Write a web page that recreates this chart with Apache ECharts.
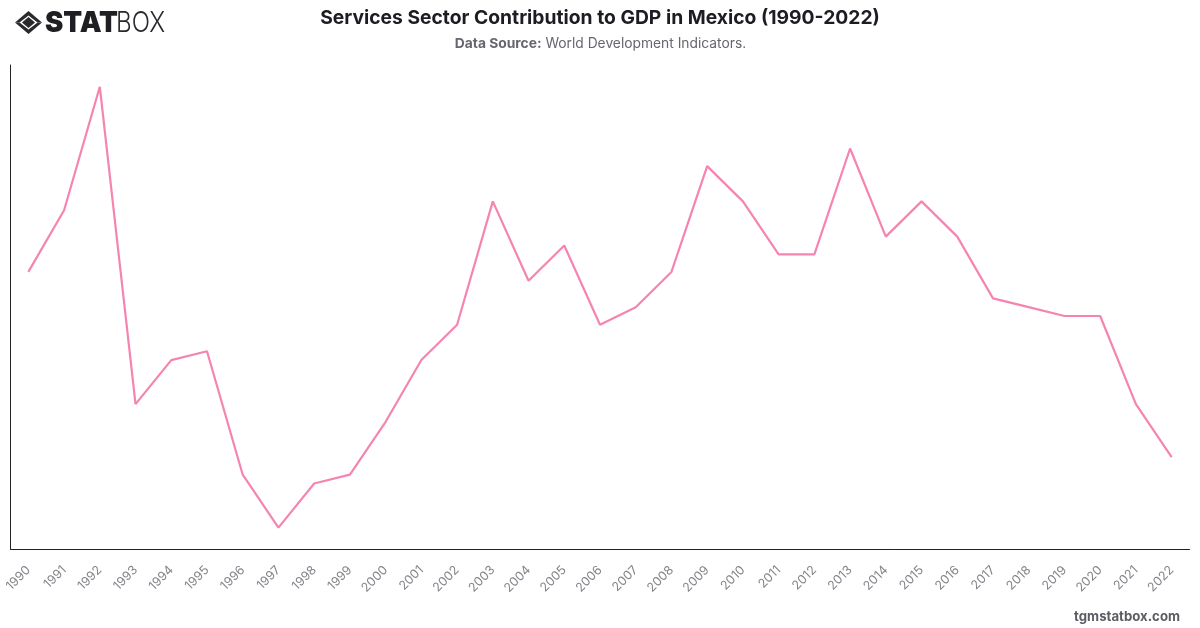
<!DOCTYPE html>
<html>
<head>
<meta charset="utf-8">
<style>html,body{margin:0;padding:0;background:#fff}#chart{width:1200px;height:628px}</style>
<script src="https://cdn.jsdelivr.net/npm/echarts@6/dist/echarts.min.js"></script>
</head>
<body>
<div id="chart"></div>
<script>
// Services, value added (% of GDP), Mexico
const years = ['1990','1991','1992','1993','1994','1995','1996','1997','1998','1999','2000','2001','2002','2003','2004','2005','2006','2007','2008','2009','2010','2011','2012','2013','2014','2015','2016','2017','2018','2019','2020','2021','2022'];
const servicesShare = [60.9,61.6,63.0,59.4,59.9,60.0,58.6,58.0,58.5,58.6,59.2,59.9,60.3,61.7,60.8,61.2,60.3,60.5,60.9,62.1,61.7,61.1,61.1,62.3,61.3,61.7,61.3,60.6,60.5,60.4,60.4,59.4,58.8];
const chartTitle = 'Services Sector Contribution to GDP in Mexico (1990-2022)';
const sourceLabel = 'Data Source:';
const sourceName = 'World Development Indicators.';
const siteName = 'tgmstatbox.com';

const font = 'Inter, "Noto Sans", sans-serif';
const chart = echarts.init(document.getElementById('chart'), null, {renderer: 'canvas'});
chart.setOption({
  animation: false,
  backgroundColor: '#ffffff',
  title: [{
    text: chartTitle,
    left: 595, top: 4, textAlign: 'center',
    textStyle: {fontFamily: font, fontSize: 19.3, fontWeight: 700, color: '#1c1c22'}
  }, {
    text: '{b|' + sourceLabel + '} {n|' + sourceName + '}',
    left: 595.5, top: 32, textAlign: 'center',
    textStyle: {
      fontFamily: font, fontSize: 13.8, fontWeight: 400, color: '#66666f',
      rich: {
        b: {fontFamily: font, fontSize: 13.8, fontWeight: 700, color: '#66666f'},
        n: {fontFamily: font, fontSize: 13.8, fontWeight: 400, color: '#66666f'}
      }
    }
  }],
  grid: {left: 10.5, right: 10.5, top: 65, bottom: 79, containLabel: false},
  xAxis: {
    type: 'category',
    data: years,
    boundaryGap: true,
    axisLine: {lineStyle: {color: '#222222', width: 1}},
    axisTick: {show: false},
    axisLabel: {interval: 0, rotate: 45, margin: 19, fontFamily: font, fontSize: 12.5, color: '#84848b'}
  },
  yAxis: {
    type: 'value',
    min: 57.757,
    max: 63.247,
    axisLine: {show: true, lineStyle: {color: '#222222', width: 1}},
    axisTick: {show: false},
    axisLabel: {show: false},
    splitLine: {show: false}
  },
  series: [{
    type: 'line',
    data: servicesShare,
    symbol: 'none',
    smooth: false,
    lineStyle: {color: '#f584b1', width: 2.2}
  }],
  graphic: [
    // brand mark: outer chevrons and inner diamond
    {type: 'polygon', shape: {points: [[15,22.5],[28.5,11],[42,22.5],[37.5,22.5],[28.5,15.5],[19.5,22.5]]}, style: {fill: '#2a2a2e'}},
    {type: 'polygon', shape: {points: [[15,22.5],[28.5,34],[42,22.5],[37.5,22.5],[28.5,29.5],[19.5,22.5]]}, style: {fill: '#2a2a2e'}},
    {type: 'polygon', shape: {points: [[22,22.5],[28.5,17],[35,22.5],[28.5,28]]}, style: {fill: '#2a2a2e'}},
    {type: 'text', x: 45, y: 9, scaleX: 0.95, style: {
      text: 'STAT', font: '900 29px Inter, sans-serif', fill: '#1f1f23'}},
    {type: 'text', x: 116, y: 9, scaleX: 0.83, style: {
      text: 'BOX', font: '300 29px Inter, sans-serif', fill: '#2a2a2e'}},
    {type: 'text', right: 20, top: 611, style: {
      text: siteName, font: '700 13.2px Inter, sans-serif', fill: '#5c5c63'}}
  ]
});
</script>
</body>
</html>
